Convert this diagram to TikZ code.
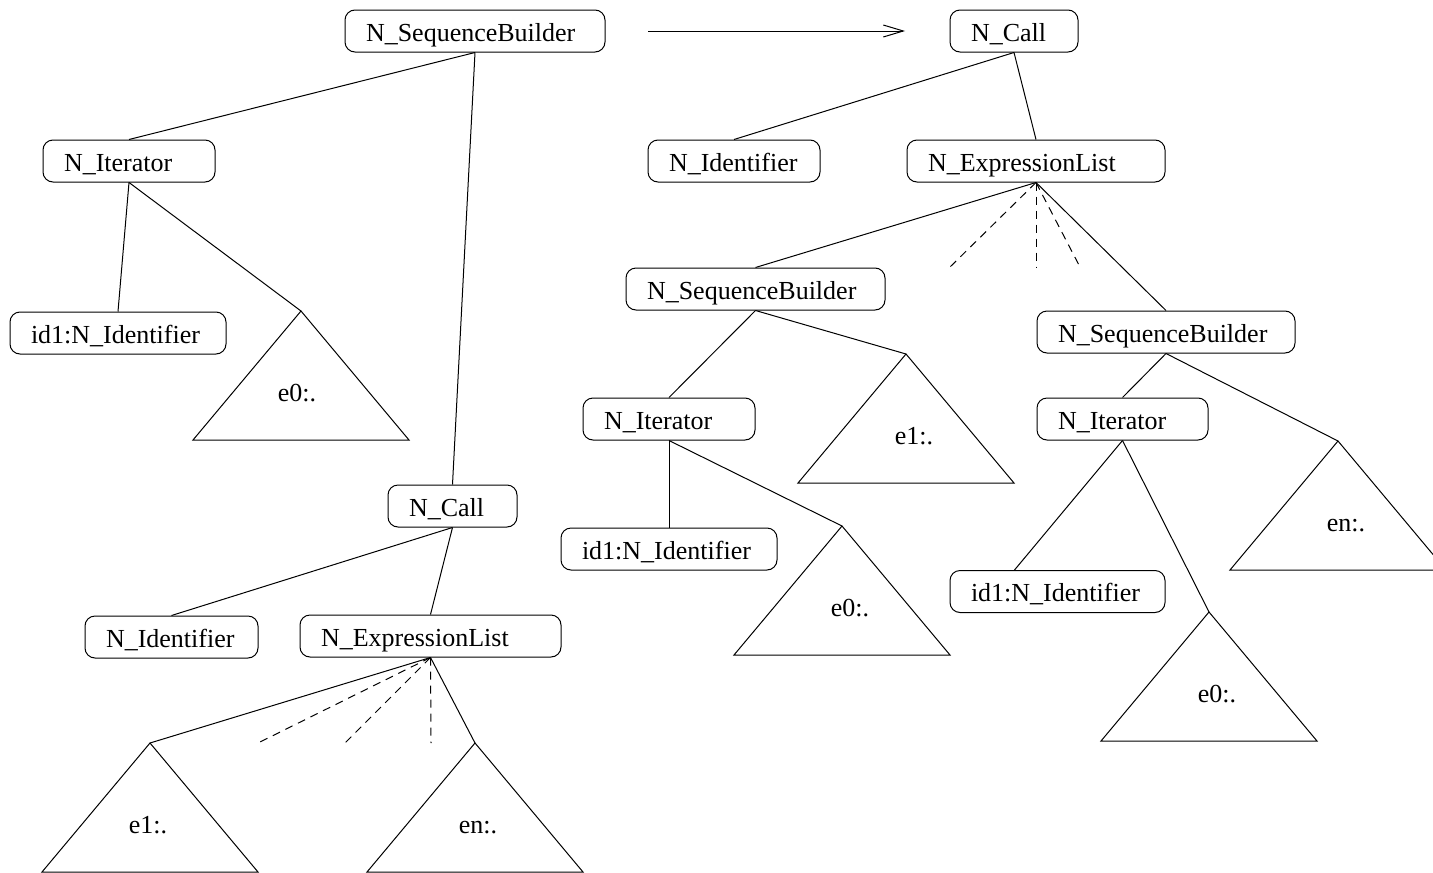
\documentclass[tikz,border=0pt]{standalone}
\usepackage{fontspec}
\setmainfont{Liberation Serif}
\usetikzlibrary{arrows.meta}

% a subtree drawn as a triangle hanging from its apex:
% name, apex x, apex y, label, horizontal label offset
\newcommand{\subtree}[5]{%
  \coordinate (#1) at (#2,#3);
  \draw[edge] (#1) -- ++(-108,129) -- ++(216,0) -- cycle;
  \node[treelabel] (#1-lbl) at ([shift={(#5,90)}]#1) {#4};
}

\begin{document}
\begin{tikzpicture}[
  x=1pt, y=-1pt,
  line width=1pt,
  font=\fontsize{26}{30}\selectfont,
  box/.style={draw, rounded corners=10pt, minimum height=42pt,
              inner xsep=21pt, inner ysep=0pt, align=left,
              text height=20pt, text depth=0pt},
  edge/.style={line width=1pt},
  dashededge/.style={line width=1pt, dash pattern=on 8pt off 6pt},
  treelabel/.style={anchor=base, inner sep=0pt},
]
\clip (0,0) rectangle (1433,873);

% ---------------- left tree ----------------
\node[box, text width=218pt] (sbA) at (475,31)    {N\_SequenceBuilder};
\node[box, text width=130pt] (itA) at (129,161)   {N\_Iterator};
\node[box, text width=174pt] (idA) at (118,333)   {id1:N\_Identifier};
\node[box, text width=87pt]  (caA) at (452.5,506) {N\_Call};
\node[box, text width=131pt] (niA) at (171.5,637) {N\_Identifier};
\node[box, text width=219pt] (elA) at (430.5,636) {N\_ExpressionList};

\subtree{eA0}{301}{311}{e0:.}{-4}
\subtree{eA1}{150}{743}{e1:.}{-2}
\subtree{eAn}{475}{743}{en:.}{3}

\draw[edge] (sbA.south) -- (itA.north);
\draw[edge] (sbA.south) -- (caA.north);
\draw[edge] (itA.south) -- (idA.north);
\draw[edge] (itA.south) -- (eA0);
\draw[edge] (caA.south) -- (niA.north);
\draw[edge] (caA.south) -- (elA.north);
\draw[edge] (elA.south) -- (eA1);
\draw[edge] (elA.south) -- (eAn);

\coordinate (dA1) at (258,743);
\coordinate (dA2) at (345,743);
\coordinate (dA3) at (431,743);
\draw[dashededge] (elA.south) -- (dA1);
\draw[dashededge] (elA.south) -- (dA2);
\draw[dashededge] (elA.south) -- (dA3);

% ---------------- rewrite arrow ----------------
\coordinate (arrS) at (648,31);
\coordinate (arrE) at (905,31);
\draw[edge, -{Straight Barb[length=20pt, width=12pt]}] (arrS) -- (arrE);

% ---------------- right tree ----------------
\node[box, text width=86pt]  (caB) at (1014,31)    {N\_Call};
\node[box, text width=130pt] (niB) at (734,161)    {N\_Identifier};
\node[box, text width=216pt] (elB) at (1036,161)   {N\_ExpressionList};
\node[box, text width=217pt] (sbB) at (755.5,289)  {N\_SequenceBuilder};
\node[box, text width=216pt] (sbC) at (1166,332)   {N\_SequenceBuilder};
\node[box, text width=130pt] (itB) at (669,419)    {N\_Iterator};
\node[box, text width=129pt] (itC) at (1122.5,419) {N\_Iterator};
\node[box, text width=174pt] (idB) at (669,549)    {id1:N\_Identifier};
\node[box, text width=173pt] (idC) at (1057.5,591.5) {id1:N\_Identifier};

\subtree{eB1}{906}{354}{e1:.}{8}
\subtree{eB0}{842}{526}{e0:.}{8}
\subtree{eCn}{1338}{441}{en:.}{8}
\subtree{eC0}{1209}{612}{e0:.}{8}

\draw[edge] (caB.south) -- (niB.north);
\draw[edge] (caB.south) -- (elB.north);
\draw[edge] (elB.south) -- (sbB.north);
\draw[edge] (elB.south) -- (sbC.north);
\draw[edge] (sbB.south) -- (itB.north);
\draw[edge] (sbB.south) -- (eB1);
\draw[edge] (itB.south) -- (idB.north);
\draw[edge] (itB.south) -- (eB0);
\draw[edge] (sbC.south) -- (itC.north);
\draw[edge] (sbC.south) -- (eCn);
\draw[edge] (itC.south) -- ([xshift=-43pt]idC.north);
\draw[edge] (itC.south) -- (eC0);

\coordinate (dB1) at (950,267);
\coordinate (dB2) at (1036,267);
\coordinate (dB3) at (1080,267);
\draw[dashededge] (elB.south) -- (dB1);
\draw[dashededge] (elB.south) -- (dB2);
\draw[dashededge] (elB.south) -- (dB3);
\end{tikzpicture}
\end{document}
